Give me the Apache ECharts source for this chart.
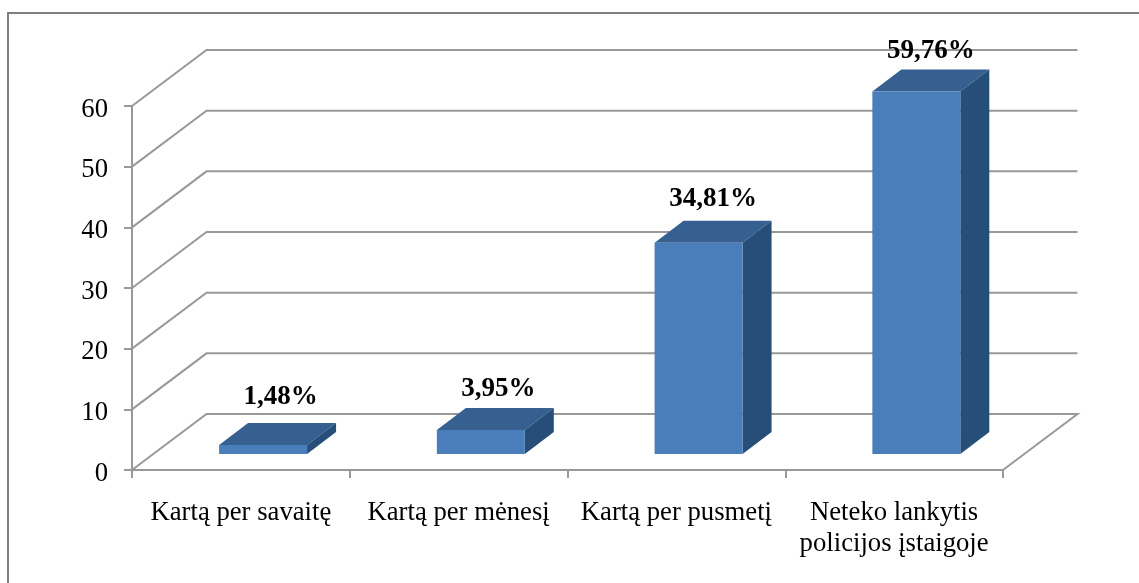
<!DOCTYPE html>
<html>
<head>
<meta charset="utf-8">
<script src="https://cdn.jsdelivr.net/npm/echarts@6/dist/echarts.min.js"></script>
<style>
html,body{margin:0;padding:0;background:#fff;}
#chart{width:1139px;height:583px;filter:blur(0.55px);}
</style>
</head>
<body>
<div id="chart"></div>
<script>
var categories = ['Kartą per savaitę', 'Kartą per mėnesį', 'Kartą per pusmetį', 'Neteko lankytis\npolicijos įstaigoje'];
var shares = [1.48, 3.95, 34.81, 59.76];
var shareLabels = ['1,48%', '3,95%', '34,81%', '59,76%'];
var gridValues = [0, 10, 20, 30, 40, 50, 60];

var FONT = '"Liberation Serif","Times New Roman",serif';
var LINE = '#999999';
var WALL = {dx: 74.5, dy: 56};      // 3D depth of the plot box
var BAR = {lift: 16, shift: 21.5, dx: 29, dy: 22, start: 0.4, width: 0.404};
var labelNudge = [[3, -26], [3, -19], [0, -22], [0, -18]];

var chart = echarts.init(document.getElementById('chart'), null, {renderer: 'canvas'});

function renderWall(params, api) {
  var cs = params.coordSys;
  var v = api.value(0);
  var y = api.coord([0, v])[1];
  var x0 = cs.x, x1 = cs.x + cs.width;
  var pts = [[x0, y], [x0 + WALL.dx, y - WALL.dy], [x1 + WALL.dx, y - WALL.dy]];
  if (v === 0) pts.push([x1, y]);
  return {
    type: 'polyline',
    shape: {points: pts},
    style: {stroke: LINE, lineWidth: 2, fill: null}
  };
}

function renderBar(params, api) {
  var i = api.value(0);
  var val = api.value(1);
  var band = api.size([1, 0])[0];
  var c = api.coord([i, val]);
  var base = api.coord([i, 0])[1] - BAR.lift;
  var top = c[1] - BAR.lift;
  var l = c[0] - band / 2 + band * BAR.start;
  var r = l + band * BAR.width;
  var d = BAR;
  var n = labelNudge[i];
  return {
    type: 'group',
    children: [
      {type: 'polygon', shape: {points: [[l, top], [r, top], [r + d.dx, top - d.dy], [l + d.dx, top - d.dy]]},
        style: {fill: '#35608f'}},
      {type: 'polygon', shape: {points: [[r, top], [r + d.dx, top - d.dy], [r + d.dx, base - d.dy], [r, base]]},
        style: {fill: '#264e78'}},
      {type: 'rect', shape: {x: l, y: top, width: r - l, height: base - top},
        style: {fill: '#4a7ebb'}},
      {type: 'text',
        style: {text: shareLabels[i], x: (l + r + d.dx) / 2 + n[0], y: top - d.dy + n[1],
          font: 'bold 27px ' + FONT, fill: '#000', align: 'center', verticalAlign: 'middle'}}
    ]
  };
}

chart.setOption({
  animation: false,
  backgroundColor: '#fff',
  grid: {left: 132, right: 136, top: 106, bottom: 113, containLabel: false},
  graphic: [{
    type: 'polyline', silent: true, z: -1,
    shape: {points: [[8, 583], [8, 13], [1139, 13]]},
    style: {stroke: '#808080', lineWidth: 2, fill: null}
  }],
  xAxis: {
    type: 'category',
    data: categories,
    boundaryGap: true,
    axisLine: {show: true, lineStyle: {color: LINE, width: 2}},
    axisTick: {show: true, alignWithLabel: false, length: 8, lineStyle: {color: LINE, width: 2}},
    axisLabel: {interval: 0, color: '#000', fontFamily: FONT, fontSize: 26.7, lineHeight: 31, margin: 27},
    splitLine: {show: false}
  },
  yAxis: {
    type: 'value',
    min: 0, max: 60, interval: 10,
    axisLine: {show: true, lineStyle: {color: LINE, width: 2}},
    axisTick: {show: true, length: 8, lineStyle: {color: LINE, width: 2}},
    axisLabel: {color: '#000', fontFamily: FONT, fontSize: 26.7, margin: 24, verticalAlign: 'top', padding: [-10, 0, 0, 0]},
    splitLine: {show: false}
  },
  series: [
    {
      type: 'custom',
      name: 'walls',
      coordinateSystem: 'cartesian2d',
      silent: true,
      clip: false,
      z: 1,
      renderItem: renderWall,
      encode: {y: 0},
      data: gridValues.map(function (v) { return [v]; })
    },
    {
      type: 'custom',
      name: 'shares',
      coordinateSystem: 'cartesian2d',
      clip: false,
      z: 2,
      renderItem: renderBar,
      encode: {x: 0, y: 1},
      data: shares.map(function (v, i) { return [i, v]; })
    }
  ]
});
</script>
</body>
</html>
